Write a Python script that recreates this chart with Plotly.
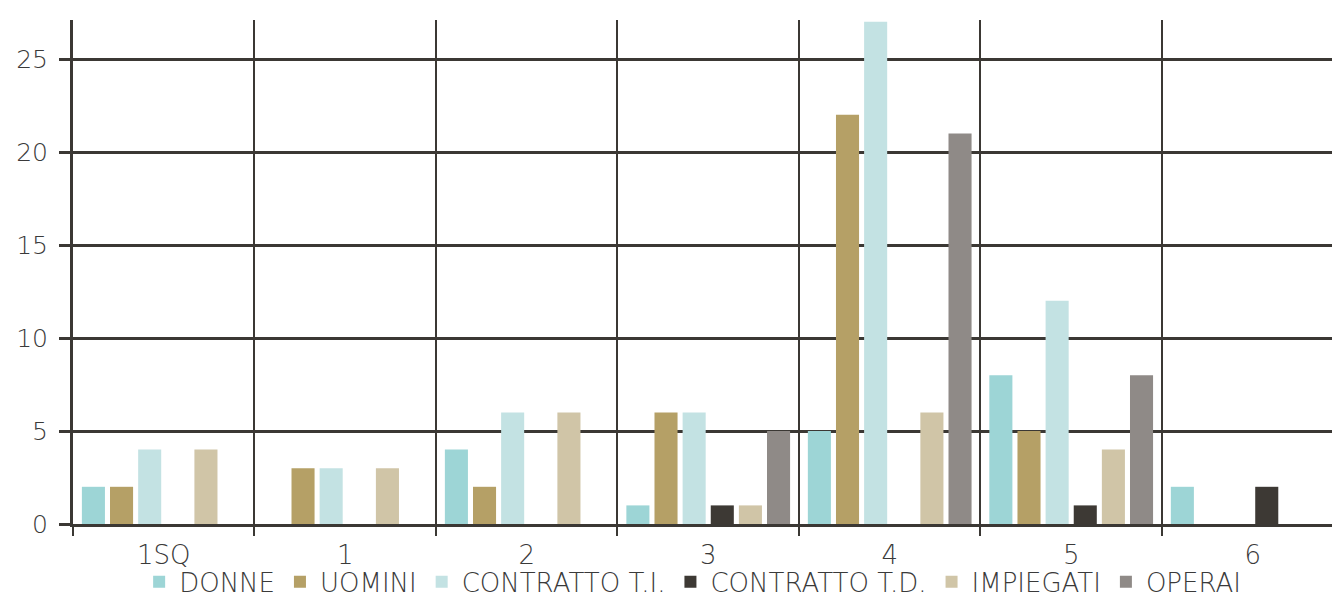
import plotly.graph_objects as go

categories = ["1SQ", "1", "2", "3", "4", "5", "6"]
donne = [2, 0, 4, 1, 5, 8, 2]
uomini = [2, 3, 2, 6, 22, 5, 0]
contratto_ti = [4, 3, 6, 6, 27, 12, 0]
contratto_td = [0, 0, 0, 1, 0, 1, 2]
impiegati = [4, 3, 6, 1, 6, 4, 0]
operai = [0, 0, 0, 5, 21, 8, 0]

series = [
    ("DONNE", donne, "#9dd5d6"),
    ("UOMINI", uomini, "#b5a066"),
    ("CONTRATTO T.I.", contratto_ti, "#c3e2e3"),
    ("CONTRATTO T.D.", contratto_td, "#3d3934"),
    ("IMPIEGATI", impiegati, "#d0c5a7"),
    ("OPERAI", operai, "#8f8a87"),
]

fig = go.Figure()
for name, vals, col in series:
    fig.add_trace(go.Bar(x=categories, y=vals, name=name, marker=dict(color=col, line=dict(width=0))))

dark = "#3b3834"
txt = "#3a3a3a"
fnt = "DejaVu Sans"
fig.update_layout(
    width=1332, height=601,
    margin=dict(l=73, r=0, t=20, b=77, autoexpand=False),
    paper_bgcolor="white", plot_bgcolor="white",
    barmode="group", bargap=0.07, bargroupgap=0.18,
    font=dict(family=fnt, color=txt, weight=200),
    showlegend=True,
    legend=dict(orientation="h", x=0.52, xanchor="center", xref="container",
                y=-0.068, yanchor="top", yref="paper",
                font=dict(family=fnt, size=26, color=txt, weight=200),
                traceorder="normal", itemwidth=30, tracegroupgap=0,
                bgcolor="rgba(0,0,0,0)"),
    xaxis=dict(
        type="category", range=[-0.5, 6.437],
        tickson="boundaries", ticks="outside", ticklen=9, tickwidth=2, tickcolor=dark,
        showgrid=True, gridcolor=dark, gridwidth=2,
        showline=True, linecolor=dark, linewidth=3,
        tickfont=dict(family=fnt, size=26, color=txt, weight=200),
        ticklabelstandoff=6,
    ),
    yaxis=dict(
        range=[0, 27.1], tickvals=[0, 5, 10, 15, 20, 25],
        ticks="outside", ticklen=11, tickwidth=3, tickcolor=dark,
        showgrid=True, gridcolor=dark, gridwidth=3,
        zeroline=False,
        showline=True, linecolor=dark, linewidth=3,
        tickfont=dict(family=fnt, size=25, color=txt, weight=200),
        ticklabelstandoff=6,
    ),
)

fig.write_html("out.html")
